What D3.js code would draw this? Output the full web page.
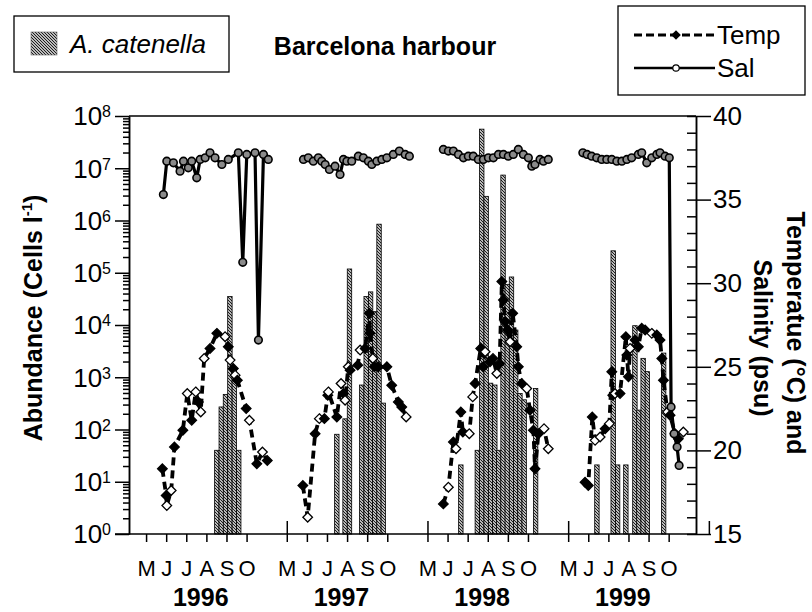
<!DOCTYPE html>
<html><head><meta charset="utf-8">
<script src="https://cdn.jsdelivr.net/npm/d3@7"></script>
<style>body{margin:0;background:#fff}svg{display:block;font-family:"Liberation Sans",Arial,sans-serif}</style>
</head><body>
<svg id="c" width="812" height="612"></svg>
<script>
// ---------- data ----------
const years = [1996, 1997, 1998, 1999];
const monthLabels = ["M", "J", "J", "A", "S", "O"];   // May .. October
const monthPositions = [5, 6, 7, 8, 9, 10];
const abundanceExponents = [0, 1, 2, 3, 4, 5, 6, 7, 8];
const rightTicks = [15, 20, 25, 30, 35, 40];

// A. catenella abundance: [year, month position (5 = May), cells per litre]
const abundance = [
  [1996, 8.52, 40], [1996, 8.74, 270], [1996, 8.95, 470], [1996, 9.17, 35000], [1996, 9.39, 1400], [1996, 9.61, 40],
  [1997, 7.49, 81], [1997, 7.90, 160], [1997, 8.12, 118000], [1997, 8.73, 710], [1997, 8.95, 35000], [1997, 9.17, 43000],
  [1997, 9.38, 18000], [1997, 9.59, 850000], [1997, 9.80, 320],
  [1998, 6.66, 21], [1998, 7.48, 40], [1998, 7.70, 56000000], [1998, 7.92, 2900000], [1998, 8.14, 770], [1998, 8.35, 710],
  [1998, 8.55, 40], [1998, 8.76, 7400000], [1998, 8.97, 60000], [1998, 9.18, 83000], [1998, 9.39, 8000], [1998, 9.60, 490],
  [1998, 9.81, 370], [1998, 10.38, 610],
  [1999, 6.43, 21], [1999, 7.24, 263000], [1999, 7.46, 21], [1999, 7.87, 21], [1999, 8.32, 9700], [1999, 8.52, 235],
  [1999, 8.73, 2300], [1999, 8.94, 1280], [1999, 9.75, 2900]
];

// Temperature: [year, month position, °C, open marker (1) / filled (0)]
const temperature = [
  [1996, 5.81, 18.9, 0], [1996, 6.00, 17.3, 0], [1996, 6.03, 16.7, 1], [1996, 6.25, 17.6, 1], [1996, 6.41, 20.2, 0],
  [1996, 6.83, 21.2, 0], [1996, 7.05, 23.4, 1], [1996, 7.27, 21.8, 0], [1996, 7.47, 23.5, 1], [1996, 7.60, 22.9, 0],
  [1996, 7.72, 22.3, 1], [1996, 7.89, 25.5, 1], [1996, 8.18, 26.1, 0], [1996, 8.52, 27.0, 0], [1996, 8.93, 26.8, 1],
  [1996, 9.09, 26.2, 0], [1996, 9.18, 25.4, 1], [1996, 9.34, 24.9, 0], [1996, 9.43, 24.5, 1], [1996, 9.54, 24.2, 0],
  [1996, 9.98, 22.5, 0], [1996, 10.14, 21.8, 1], [1996, 10.51, 19.2, 0], [1996, 10.79, 19.9, 1], [1996, 11.03, 19.4, 0],
  [1997, 5.80, 17.9, 0], [1997, 6.04, 16.0, 1], [1997, 6.41, 21.0, 0], [1997, 6.62, 21.9, 1], [1997, 6.87, 21.9, 0],
  [1997, 7.04, 23.3, 0], [1997, 7.07, 23.5, 1], [1997, 7.49, 22.0, 0], [1997, 7.70, 24.0, 1], [1997, 7.82, 23.4, 0],
  [1997, 7.90, 23.0, 1], [1997, 8.06, 25.0, 1], [1997, 8.15, 24.8, 0], [1997, 8.53, 25.1, 0], [1997, 8.65, 26.0, 1],
  [1997, 8.90, 26.1, 0], [1997, 9.11, 28.2, 0], [1997, 9.14, 27.0, 0], [1997, 9.28, 25.5, 1], [1997, 9.36, 25.0, 0],
  [1997, 9.56, 25.0, 0], [1997, 9.98, 25.0, 0], [1997, 10.22, 23.9, 0], [1997, 10.55, 22.9, 0], [1997, 10.72, 22.6, 0],
  [1997, 10.94, 22.0, 1],
  [1998, 5.79, 16.8, 0], [1998, 6.04, 17.8, 1], [1998, 6.29, 20.5, 0], [1998, 6.42, 20.1, 1], [1998, 6.66, 22.3, 0],
  [1998, 6.76, 21.1, 0], [1998, 7.08, 21.0, 1], [1998, 7.25, 23.2, 1], [1998, 7.37, 24.0, 0], [1998, 7.65, 26.1, 0],
  [1998, 7.78, 25.0, 0], [1998, 7.87, 25.9, 1], [1998, 8.11, 25.3, 0], [1998, 8.26, 25.5, 0], [1998, 8.45, 24.6, 1],
  [1998, 8.59, 25.2, 0], [1998, 8.70, 30.1, 0], [1998, 8.78, 29.0, 0], [1998, 8.86, 27.7, 0], [1998, 8.98, 27.2, 0],
  [1998, 9.11, 26.5, 1], [1998, 9.24, 28.2, 0], [1998, 9.44, 26.2, 0], [1998, 9.52, 25.0, 0], [1998, 9.69, 24.0, 0],
  [1998, 9.94, 23.7, 1], [1998, 10.10, 22.4, 0], [1998, 10.27, 21.2, 0], [1998, 10.35, 18.9, 0], [1998, 10.52, 21.0, 0],
  [1998, 10.80, 21.3, 1], [1998, 11.01, 20.1, 1],
  [1999, 5.84, 18.1, 0], [1999, 6.00, 17.9, 0], [1999, 6.20, 22.0, 0], [1999, 6.34, 20.6, 1], [1999, 6.59, 20.8, 1],
  [1999, 6.84, 21.3, 0], [1999, 7.05, 21.6, 1], [1999, 7.17, 24.7, 0], [1999, 7.22, 23.3, 0], [1999, 7.33, 23.4, 1],
  [1999, 7.58, 23.4, 0], [1999, 7.87, 26.8, 0], [1999, 7.92, 25.7, 0], [1999, 8.00, 24.4, 0], [1999, 8.08, 26.1, 1],
  [1999, 8.33, 26.6, 0], [1999, 8.49, 26.2, 0], [1999, 8.66, 27.3, 0], [1999, 8.83, 27.2, 0], [1999, 9.16, 27.0, 1],
  [1999, 9.41, 26.9, 0], [1999, 9.57, 26.6, 0], [1999, 9.66, 25.5, 0], [1999, 9.74, 24.2, 0], [1999, 9.94, 22.3, 1],
  [1999, 10.07, 22.1, 0], [1999, 10.32, 21.0, 1], [1999, 10.48, 20.7, 0], [1999, 10.73, 21.1, 1]
];

// Salinity: [year, month position, psu]
const salinity = [
  [1996, 5.86, 35.3], [1996, 6.03, 37.3], [1996, 6.36, 37.2], [1996, 6.69, 36.7], [1996, 6.86, 37.3], [1996, 7.10, 36.9],
  [1996, 7.27, 37.3], [1996, 7.52, 36.3], [1996, 7.69, 37.4], [1996, 7.94, 37.5], [1996, 8.18, 37.8], [1996, 8.43, 37.5],
  [1996, 8.77, 37.1], [1996, 9.09, 37.4], [1996, 9.59, 37.8], [1996, 9.81, 31.25], [1996, 10.01, 37.7], [1996, 10.42, 37.8],
  [1996, 10.59, 26.6], [1996, 10.84, 37.7], [1996, 11.08, 37.4],
  [1997, 5.83, 37.4], [1997, 6.07, 37.5], [1997, 6.32, 37.3], [1997, 6.57, 37.5], [1997, 6.74, 37.3], [1997, 6.91, 37.1],
  [1997, 7.12, 36.8], [1997, 7.40, 37.0], [1997, 7.65, 36.5], [1997, 7.82, 37.4], [1997, 7.99, 37.3], [1997, 8.23, 37.3],
  [1997, 8.56, 37.6], [1997, 8.81, 37.5], [1997, 9.06, 37.3], [1997, 9.23, 37.1], [1997, 9.48, 37.3], [1997, 9.73, 37.4],
  [1997, 9.98, 37.5], [1997, 10.30, 37.7], [1997, 10.60, 37.9], [1997, 10.89, 37.7], [1997, 11.10, 37.6],
  [1998, 5.79, 38.0], [1998, 6.04, 37.9], [1998, 6.29, 37.9], [1998, 6.54, 37.7], [1998, 6.79, 37.5], [1998, 7.03, 37.6],
  [1998, 7.28, 37.6], [1998, 7.53, 37.4], [1998, 7.78, 37.4], [1998, 8.03, 37.5], [1998, 8.28, 37.5], [1998, 8.53, 37.7],
  [1998, 8.78, 37.7], [1998, 9.02, 37.6], [1998, 9.27, 37.7], [1998, 9.52, 38.0], [1998, 9.77, 37.7], [1998, 10.02, 37.5],
  [1998, 10.19, 37.0], [1998, 10.35, 37.1], [1998, 10.60, 37.4], [1998, 10.77, 37.3], [1998, 11.01, 37.4],
  [1999, 5.73, 37.8], [1999, 5.94, 37.7], [1999, 6.17, 37.6], [1999, 6.42, 37.5], [1999, 6.67, 37.4], [1999, 6.92, 37.4],
  [1999, 7.17, 37.4], [1999, 7.42, 37.3], [1999, 7.67, 37.3], [1999, 7.92, 37.4], [1999, 8.16, 37.5], [1999, 8.49, 37.7],
  [1999, 8.66, 37.8], [1999, 8.91, 37.2], [1999, 9.16, 37.5], [1999, 9.41, 37.7], [1999, 9.57, 37.8], [1999, 9.82, 37.6],
  [1999, 10.03, 37.5], [1999, 10.12, 22.6], [1999, 10.27, 21.0], [1999, 10.42, 20.2], [1999, 10.52, 19.1]
];

// ---------- layout ----------
const svg = d3.select("#c");
const L = 129, R = 696, T = 116, B = 534;
const idx = (yr, mp) => (yr - years[0]) * 7 + (mp - 5);
const x = d3.scaleLinear().domain([-0.85, 27.36]).range([L, R]);
const yL = d3.scaleLog().domain([1, 1e8]).range([B, T]);
const yR = d3.scaleLinear().domain([15, 40]).range([B, T]);
const barW = x(0.22) - x(0);

// hatch pattern
const defs = svg.append("defs");
const pat = defs.append("pattern").attr("id", "hatch").attr("patternUnits", "userSpaceOnUse")
  .attr("width", 3).attr("height", 3);
pat.append("rect").attr("width", 3).attr("height", 3).attr("fill", "#fff");
pat.append("path").attr("d", "M-1,-1L4,4M-1,2L1,4M2,-1L4,1").attr("stroke", "#111").attr("stroke-width", 1.1);

// ---------- bars ----------
svg.append("g").selectAll("rect").data(abundance).join("rect")
  .attr("x", d => x(idx(d[0], d[1])) - barW / 2)
  .attr("width", barW)
  .attr("y", d => yL(d[2]))
  .attr("height", d => B - yL(d[2]))
  .attr("fill", "url(#hatch)").attr("stroke", "#000").attr("stroke-width", 0.8);

// ---------- lines ----------
const diamond = "M0,-4.8L4.8,0L0,4.8L-4.8,0Z";
const tLine = d3.line().x(d => x(idx(d[0], d[1]))).y(d => yR(d[2]));
const gT = svg.append("g");
gT.selectAll("path.t").data(d3.groups(temperature, d => d[0]).map(g => g[1])).join("path")
  .attr("d", tLine).attr("fill", "none").attr("stroke", "#000").attr("stroke-width", 3.8)
  .attr("stroke-dasharray", "8,5");
gT.selectAll("path.m").data(temperature).join("path")
  .attr("d", diamond)
  .attr("transform", d => `translate(${x(idx(d[0], d[1]))},${yR(d[2])})`)
  .attr("fill", d => d[3] ? "#fff" : "#000").attr("stroke", "#000").attr("stroke-width", 1.3);

const gS = svg.append("g");
gS.selectAll("path").data(d3.groups(salinity, d => d[0]).map(g => g[1])).join("path")
  .attr("d", tLine).attr("fill", "none").attr("stroke", "#000").attr("stroke-width", 3.2);
gS.selectAll("circle").data(salinity).join("circle")
  .attr("cx", d => x(idx(d[0], d[1]))).attr("cy", d => yR(d[2])).attr("r", 3.8)
  .attr("fill", "#8a8a8a").attr("stroke", "#000").attr("stroke-width", 1.6);

// ---------- axes ----------
const axStyle = g => { g.selectAll("path,line").attr("stroke", "#000").attr("stroke-width", 1.5); g.selectAll("text").remove(); };

// left: major and minor log ticks
const majors = abundanceExponents.map(e => Math.pow(10, e));
const minors = [];
abundanceExponents.slice(0, -1).forEach(e => { for (let k = 2; k <= 9; k++) minors.push(k * Math.pow(10, e)); });
svg.append("g").attr("transform", `translate(${L},0)`)
  .call(d3.axisLeft(yL).tickValues(majors).tickSize(14).tickSizeOuter(0)).call(axStyle);
svg.append("g").attr("transform", `translate(${L},0)`)
  .call(d3.axisLeft(yL).tickValues(minors).tickSize(6).tickSizeOuter(0)).call(axStyle);
const lbl = svg.append("g").selectAll("text").data(abundanceExponents).join("text")
  .attr("x", 111).attr("y", e => yL(Math.pow(10, e)) + 9.3).attr("text-anchor", "end")
  .attr("font-size", 26);
lbl.append("tspan").text("10");
lbl.append("tspan").attr("font-size", 16).attr("dy", -8).text(e => e);

// right axis
const rAll = d3.range(15, 41);
svg.append("g").attr("transform", `translate(${R},0)`)
  .call(d3.axisLeft(yR).tickValues(rAll).tickSize(9).tickSizeOuter(0)).call(axStyle);
svg.append("g").attr("transform", `translate(${R},0)`)
  .call(d3.axisRight(yR).tickValues(rightTicks).tickSize(15).tickSizeOuter(0).tickPadding(2))
  .call(g => { g.selectAll("path,line").attr("stroke", "#000").attr("stroke-width", 1.5);
               g.selectAll("text").attr("font-size", 26).attr("font-family", null).attr("fill", "#000"); });

// top frame
svg.append("line").attr("x1", L).attr("x2", R).attr("y1", T).attr("y2", T).attr("stroke", "#000").attr("stroke-width", 1.5);

// bottom axis: month ticks (down) with labels
const monthTicks = [], monthText = [];
years.forEach(yr => monthPositions.forEach((mp, i) => { monthTicks.push(idx(yr, mp)); monthText.push(monthLabels[i]); }));
svg.append("g").attr("transform", `translate(0,${B})`)
  .call(d3.axisBottom(x).tickValues(monthTicks).tickSize(8).tickSizeOuter(0).tickPadding(18)
    .tickFormat((d, i) => monthText[i]))
  .call(g => { g.select(".domain").remove(); g.selectAll("line").attr("stroke", "#000").attr("stroke-width", 1.5);
               g.selectAll("text").attr("font-size", 22).attr("font-family", null).attr("fill", "#000"); });
// year separators (up)
svg.append("g").attr("transform", `translate(0,${B})`)
  .call(d3.axisBottom(x).tickValues(years.map(yr => idx(yr, 12))).tickSize(-13).tickSizeOuter(0))
  .call(g => { g.select(".domain").remove(); g.selectAll("line").attr("stroke", "#000").attr("stroke-width", 1.5); g.selectAll("text").remove(); });
svg.append("line").attr("x1", 115).attr("x2", R).attr("y1", B).attr("y2", B).attr("stroke", "#000").attr("stroke-width", 1.5);

// year labels
svg.append("g").selectAll("text").data(years).join("text")
  .attr("x", yr => x(idx(yr, 7.72))).attr("y", 606).attr("text-anchor", "middle")
  .attr("font-size", 25).attr("font-weight", "bold").text(yr => yr);

// axis titles
const lt = svg.append("text").attr("transform", "translate(42,318) rotate(-90)")
  .attr("text-anchor", "middle").attr("font-size", 25).attr("font-weight", "bold");
lt.append("tspan").text("Abundance (Cells l");
lt.append("tspan").attr("font-size", 15).attr("dy", -10).text("-1");
lt.append("tspan").attr("dy", 10).text(")");

svg.append("text").attr("transform", "translate(787,333) rotate(90)").attr("text-anchor", "middle")
  .attr("font-size", 25).attr("font-weight", "bold").text("Temperatue (°C) and");
svg.append("text").attr("transform", "translate(754,338) rotate(90)").attr("text-anchor", "middle")
  .attr("font-size", 25).attr("font-weight", "bold").text("Salinity (psu)");

// ---------- title and legends ----------
svg.append("text").attr("x", 385).attr("y", 55).attr("text-anchor", "middle")
  .attr("font-size", 25).attr("font-weight", "bold").text("Barcelona harbour");

svg.append("rect").attr("x", 14).attr("y", 16).attr("width", 215).attr("height", 56)
  .attr("fill", "#fff").attr("stroke", "#000").attr("stroke-width", 1.3);
svg.append("rect").attr("x", 31).attr("y", 32).attr("width", 26).attr("height", 23)
  .attr("fill", "url(#hatch)").attr("stroke", "#666").attr("stroke-width", 0.6);
svg.append("text").attr("x", 70).attr("y", 53).attr("font-size", 26).attr("font-style", "italic").text("A. catenella");

svg.append("rect").attr("x", 618).attr("y", 6).attr("width", 187).attr("height", 89)
  .attr("fill", "#fff").attr("stroke", "#000").attr("stroke-width", 1.3);
svg.append("line").attr("x1", 634).attr("x2", 715).attr("y1", 35).attr("y2", 35)
  .attr("stroke", "#000").attr("stroke-width", 3).attr("stroke-dasharray", "8,4");
svg.append("path").attr("d", diamond).attr("transform", "translate(676,35)").attr("fill", "#000");
svg.append("text").attr("x", 717).attr("y", 44).attr("font-size", 26).text("Temp");
svg.append("line").attr("x1", 634).attr("x2", 715).attr("y1", 68).attr("y2", 68)
  .attr("stroke", "#000").attr("stroke-width", 2.5);
svg.append("circle").attr("cx", 676).attr("cy", 68).attr("r", 3.2).attr("fill", "#fff").attr("stroke", "#000").attr("stroke-width", 1.2);
svg.append("text").attr("x", 717).attr("y", 77).attr("font-size", 26).text("Sal");
</script>
</body></html>
